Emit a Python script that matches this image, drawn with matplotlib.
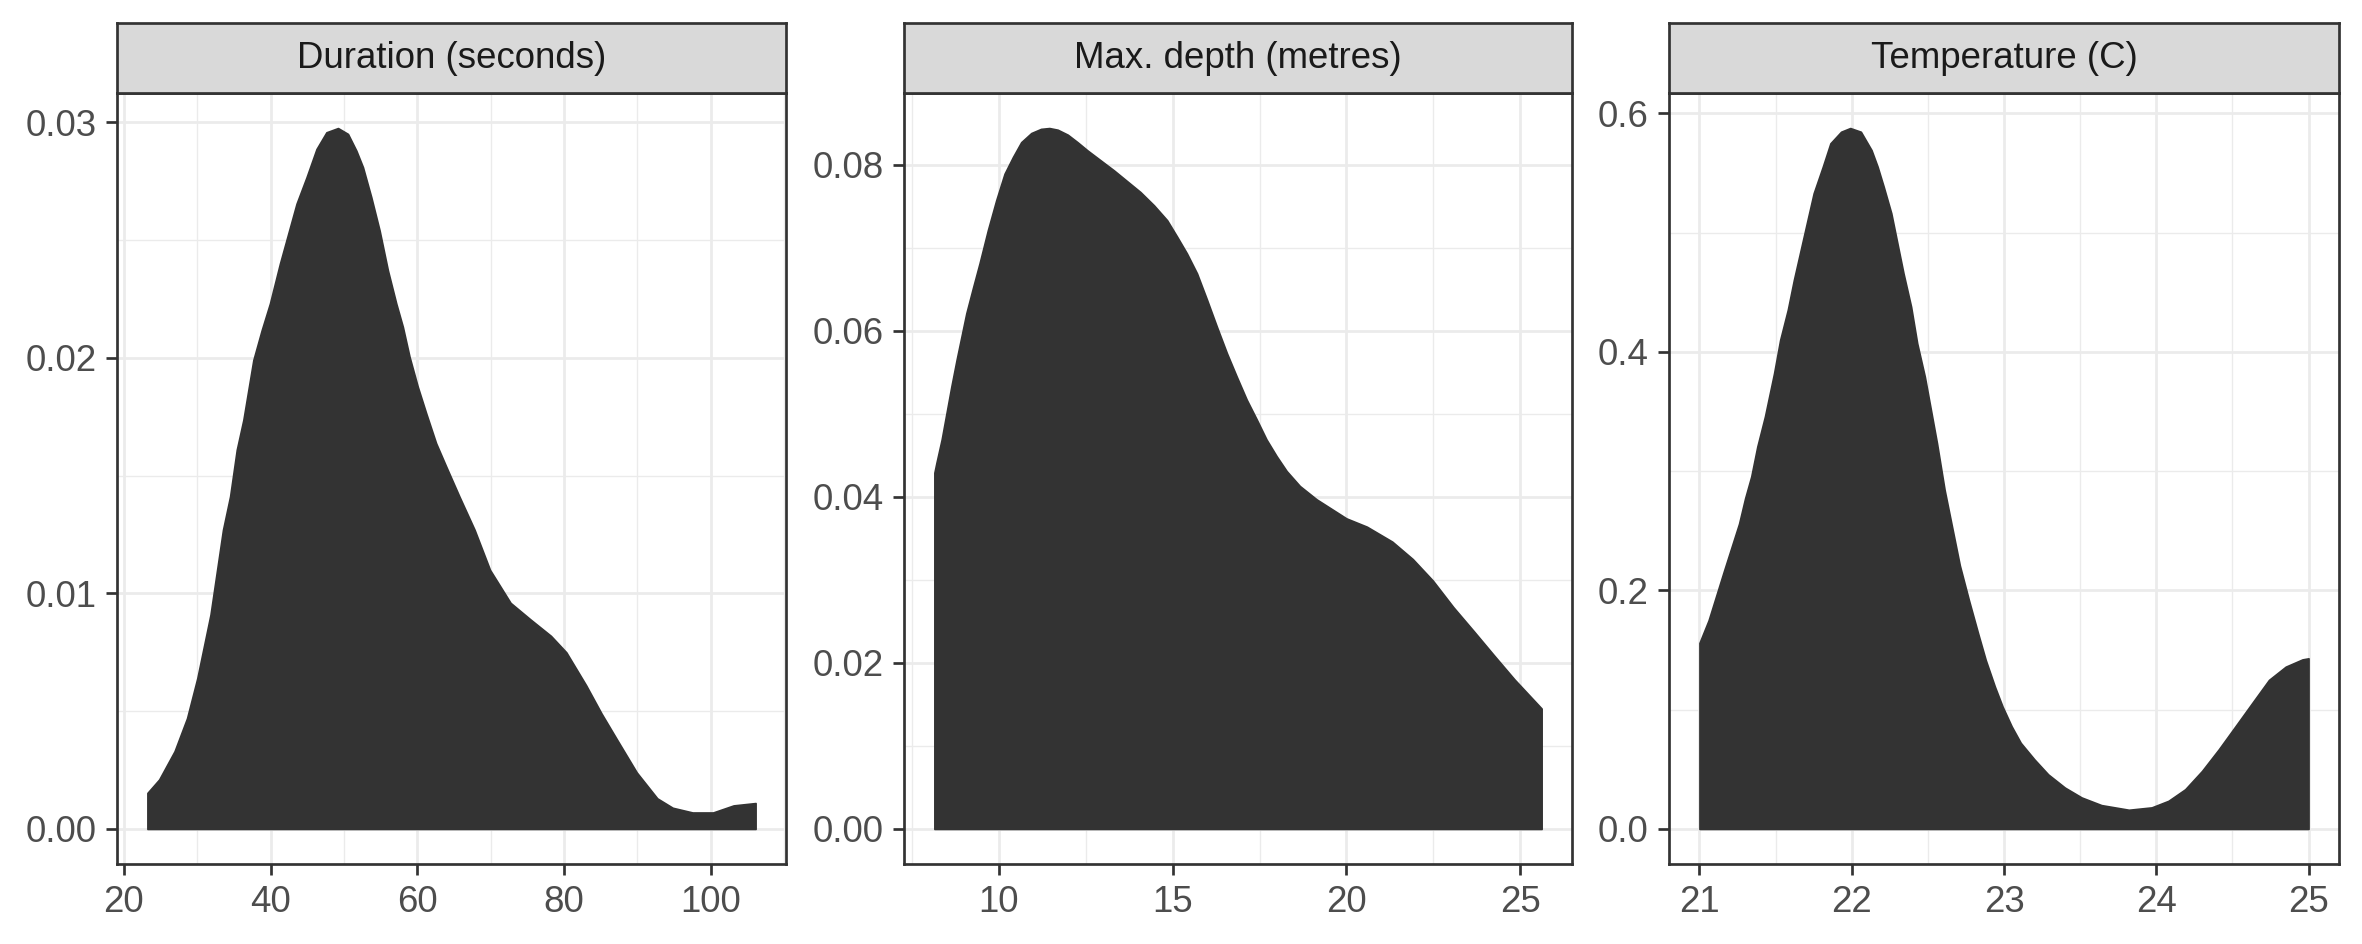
import matplotlib
matplotlib.use("Agg")
import matplotlib.pyplot as plt
from matplotlib.ticker import MultipleLocator, FormatStrFormatter

plt.rcParams['font.family'] = ['Liberation Sans', 'DejaVu Sans']

# density estimates
dur_x = [23.2, 24.8, 26.9, 28.6, 30.0, 31.8, 33.5, 34.47, 35.38, 36.28, 37.64, 38.78,
         39.9, 41.26, 42.39, 43.53, 44.89, 46.25, 47.6, 49.18, 50.54, 51.68, 52.58,
         53.72, 54.85, 55.98, 57.12, 58.02, 58.93, 60.05, 61.2, 62.55, 63.91, 65.72,
         67.8, 69.9, 72.7, 75.4, 78.2, 80.3, 83.0, 85.1, 87.2, 89.9, 92.7, 94.8, 97.5,
         100.3, 103.1, 106.1]
dur_y = [0.00153, 0.0021, 0.0033, 0.0047, 0.0064, 0.0091, 0.0127, 0.01412, 0.0161,
         0.01737, 0.01991, 0.02118, 0.02231, 0.0240, 0.02527, 0.02655, 0.02767, 0.02887,
         0.02958, 0.02976, 0.02951, 0.0288, 0.0281, 0.02682, 0.02541, 0.02372, 0.02231,
         0.02132, 0.02005, 0.01878, 0.01765, 0.01638, 0.0154, 0.01412, 0.0127, 0.0110,
         0.0096, 0.0089, 0.0082, 0.0075, 0.0061, 0.0049, 0.0038, 0.0024, 0.0013, 0.0009,
         0.0007, 0.0007, 0.0010, 0.0011]

depth_x = [8.14, 8.20, 8.35, 8.49, 8.63, 8.78, 8.92, 9.06, 9.26, 9.44, 9.68, 9.92, 10.16,
           10.40, 10.64, 10.93, 11.21, 11.45, 11.69, 11.98, 12.26, 12.55, 12.93, 13.31,
           13.69, 14.07, 14.46, 14.84, 15.13, 15.41, 15.70, 15.99, 16.27, 16.56, 16.84,
           17.13, 17.42, 17.70, 17.99, 18.28, 18.66, 19.14, 20.0, 20.59, 21.32, 21.91,
           22.49, 23.08, 23.67, 24.25, 24.84, 25.62]
depth_y = [0.0429, 0.0441, 0.0469, 0.0501, 0.0533, 0.0565, 0.0593, 0.0621, 0.0653, 0.0681,
           0.0721, 0.0757, 0.0789, 0.0809, 0.0827, 0.0838, 0.0843, 0.0844, 0.0842, 0.0836,
           0.0827, 0.0817, 0.0805, 0.0793, 0.0780, 0.0767, 0.0751, 0.0733, 0.0713, 0.0693,
           0.0669, 0.0637, 0.0605, 0.0573, 0.0545, 0.0517, 0.0493, 0.0469, 0.0449, 0.0431,
           0.0413, 0.0397, 0.0374, 0.0364, 0.0346, 0.0325, 0.0299, 0.0267, 0.0238, 0.0209,
           0.0180, 0.0145]

temp_x = [21.0, 21.06, 21.16, 21.26, 21.30, 21.34, 21.38, 21.43, 21.49, 21.53, 21.58,
          21.62, 21.66, 21.71, 21.75, 21.81, 21.86, 21.93, 21.99, 22.06, 22.13, 22.17,
          22.21, 22.26, 22.30, 22.34, 22.39, 22.43, 22.48, 22.52, 22.56, 22.61, 22.71,
          22.77, 22.83, 22.88, 22.94, 22.99, 23.05, 23.11, 23.20, 23.29, 23.40, 23.51,
          23.64, 23.82, 23.97, 24.08, 24.19, 24.30, 24.41, 24.52, 24.63, 24.74, 24.85,
          24.96, 25.0]
temp_y = [0.156, 0.175, 0.216, 0.256, 0.2774, 0.2955, 0.3207, 0.3459, 0.3822, 0.4101,
          0.4353, 0.4604, 0.4828, 0.5108, 0.5331, 0.5554, 0.5750, 0.5847, 0.5878, 0.5847,
          0.5693, 0.5554, 0.5386, 0.5163, 0.4911, 0.4660, 0.4380, 0.4073, 0.3794, 0.3515,
          0.3235, 0.2844, 0.221, 0.1917, 0.164, 0.1417, 0.1194, 0.1028, 0.0861, 0.0722,
          0.0583, 0.0458, 0.0347, 0.0264, 0.0200, 0.0161, 0.0181, 0.0236, 0.0333, 0.0486,
          0.0667, 0.0861, 0.1056, 0.125, 0.1361, 0.1422, 0.1431]

titles = ["Duration (seconds)", "Max. depth (metres)", "Temperature (C)"]
xs = [dur_x, depth_x, temp_x]
ys = [dur_y, depth_y, temp_y]
x_major = [20, 5, 1]
y_major = [0.01, 0.02, 0.2]
y_fmt = ['%.2f', '%.2f', '%.1f']

W, H = 2362, 944
fig = plt.figure(figsize=(W / 300, H / 300), dpi=300)

lefts = [117, 904, 1669]
rights = [786, 1572, 2339]
strip_top, strip_bot, panel_bot = 23, 93, 864

dark = '#333333'
lw = 0.65

for i in range(3):
    l = lefts[i] / W
    w = (rights[i] - lefts[i]) / W
    ax = fig.add_axes([l, 1 - panel_bot / H, w, (panel_bot - strip_bot) / H])
    x, y = xs[i], ys[i]
    xr = max(x) - min(x)
    ax.set_xlim(min(x) - 0.05 * xr, max(x) + 0.05 * xr)
    ymax = max(y)
    ax.set_ylim(-0.05 * ymax, ymax * 1.05)
    ax.fill_between(x, 0, y, color=dark, linewidth=0.4, edgecolor=dark, zorder=3)

    ax.xaxis.set_major_locator(MultipleLocator(x_major[i]))
    ax.xaxis.set_minor_locator(MultipleLocator(x_major[i] / 2))
    ax.yaxis.set_major_locator(MultipleLocator(y_major[i]))
    ax.yaxis.set_minor_locator(MultipleLocator(y_major[i] / 2))
    ax.xaxis.set_major_formatter(FormatStrFormatter('%d'))
    ax.yaxis.set_major_formatter(FormatStrFormatter(y_fmt[i]))
    ax.grid(which='major', color='#EBEBEB', linewidth=lw, zorder=0)
    ax.grid(which='minor', color='#EBEBEB', linewidth=lw / 2, zorder=0)
    ax.set_axisbelow(True)
    ax.tick_params(which='major', length=2.75, width=lw, color=dark,
                   labelsize=8.8, labelcolor='#4D4D4D', pad=2.2)
    ax.tick_params(which='minor', length=0)
    for s in ax.spines.values():
        s.set_color(dark)
        s.set_linewidth(lw)
        s.set_zorder(5)

    sax = fig.add_axes([l, 1 - strip_bot / H, w, (strip_bot - strip_top) / H])
    sax.set_facecolor('#D9D9D9')
    sax.set_xticks([])
    sax.set_yticks([])
    for s in sax.spines.values():
        s.set_color(dark)
        s.set_linewidth(lw)
    sax.text(0.5, 0.5, titles[i], ha='center', va='center', fontsize=8.8,
             color='#1A1A1A', transform=sax.transAxes)

fig.savefig("out.png", dpi=300, facecolor='white')
